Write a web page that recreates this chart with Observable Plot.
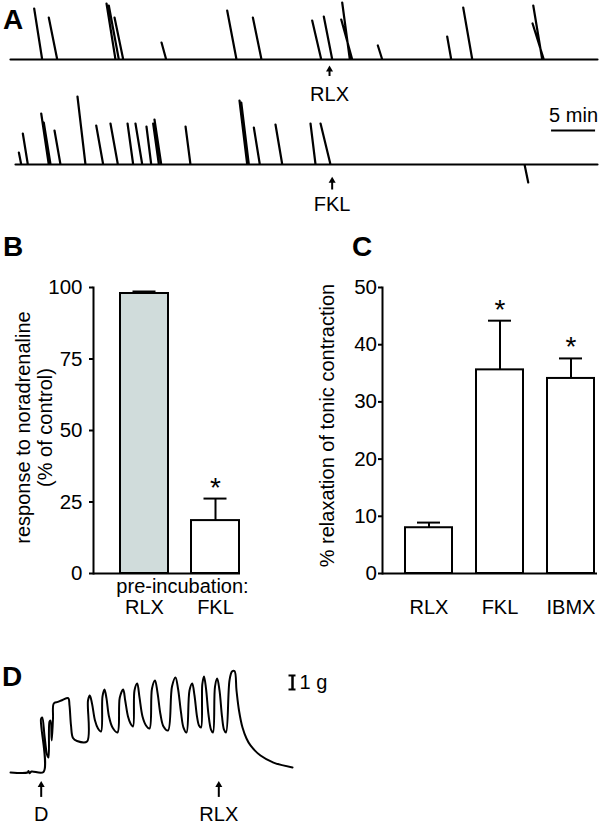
<!DOCTYPE html>
<html><head><meta charset="utf-8">
<script src="https://cdn.jsdelivr.net/npm/d3@7"></script>
<script src="https://cdn.jsdelivr.net/npm/@observablehq/plot@0.6"></script>
<style>
body{margin:0;background:#fff;}
#fig{position:relative;width:600px;height:824px;overflow:hidden;background:#fff;font-family:"Liberation Sans",Arial,Helvetica,sans-serif;}
.lbl{position:absolute;font-weight:bold;font-size:28px;line-height:28px;color:#000;}
</style></head>
<body><div id="fig"></div>
<script>
// ---------------- Panel A: spontaneous contractions (time in min, amplitude a.u.) ----------------
const topTraceStart = 0, topTraceEnd = 66.7;
const topSpikePeakTime = [2.69, 4.35, 10.91, 11.17, 11.82, 17.16, 24.62, 27.54, 34.28, 35.60, 37.69, 37.58, 41.74, 49.62, 51.44, 59.40, 59.32];
const topSpikeAmp      = [51, 42, 56, 54, 42, 17, 49, 42, 39, 43, 57, 40, 14, 23, 52, 54, 36];
const topSpikeFootTime = [3.60, 5.31, 11.93, 12.31, 12.81, 17.69, 25.68, 28.52, 35.31, 36.56, 38.56, 38.83, 42.24, 50.08, 52.47, 60.42, 60.60];

const botTraceStart = 0.57, botTraceEnd = 66.7;
const botSpikePeakTime = [0.95, 1.40, 3.49, 3.78, 5.00, 7.61, 9.74, 11.36, 13.30, 14.20, 15.45, 16.21, 16.36, 19.89, 26.02, 26.22, 27.65, 30.11, 34.09, 35.23, 58.83];
const botSpikeAmp      = [12, 31, 51, 42, 34, 68, 39, 41, 41, 41, 38, 41, 45, 38, 64, 62, 37, 40, 41, 41, -18];
const botSpikeFootTime = [1.22, 1.97, 4.35, 4.55, 5.68, 8.52, 10.53, 12.20, 13.94, 14.97, 15.99, 16.86, 17.13, 20.45, 26.90, 27.08, 28.33, 30.88, 34.66, 36.36, 58.41];

const topDrugTime = [36.25], topDrugLabel = ["RLX"];
const botDrugTime = [36.55], botDrugLabel = ["FKL"];
const timeBarMinutes = 5, timeBarEnd = 66.48, timeBarLabel = "5 min";

// ---------------- Panel B ----------------
const bCategories = ["RLX", "FKL"];
const bMeans = [97.9, 18.5];
const bErrors = [0.7, 7.7];
const bSignificant = [false, true];
const bFills = ["#d0dcdb", "#ffffff"];
const bTicks = [0, 25, 50, 75, 100];
const bYLabel = "response to noradrenaline\n(% of control)";
const bXLabel = "pre-incubation:";

// ---------------- Panel C ----------------
const cCategories = ["RLX", "FKL", "IBMX"];
const cMeans = [8.0, 35.6, 34.1];
const cErrors = [0.9, 8.6, 3.5];
const cSignificant = [false, true, true];
const cTicks = [0, 10, 20, 30, 40, 50];
const cYLabel = "% relaxation of tonic contraction";

// ---------------- Panel D: tension trace (time a.u., force in g) ----------------
const dTime = [0, 17, 18, 19, 21, 33, 30.5, 31.7, 34, 36.5, 38, 39, 40, 41.2, 42.5, 43.3, 47.3, 52, 57.7, 59, 60.5, 62.5, 66.5, 76.5,
  77.5, 79.3, 81.5, 84.5, 87.5, 90.5,
  92, 94, 96, 98.5, 102, 107,
  109.3, 112.7, 114.7, 117.5, 120, 122.5,
  124, 126.7, 129, 132, 135.5, 139,
  141.5, 144.5, 147, 150, 153, 157.5,
  161.5, 165, 167.5, 170.5, 173, 176,
  179, 181.7, 184, 186.5, 188.5, 190.5,
  191.8, 193.5, 195.5, 198, 200.5, 202.5,
  204.5, 206.7, 209, 211.5, 213.5, 215.5,
  219, 221.5, 224, 226, 228.5, 232, 236, 240, 250, 263, 282];
const dForce = [0, 0, 0.1, -0.05, 0.07, 0.04, 3.82, 3.93, 2.64, 1.29, 1.07, 3.64, 3.71, 2.29, 3.86, 4.93, 5.04, 5.18, 5.31, 4.79, 3.36, 2.46, 2.25, 2.21,
  5.14, 5.5, 4.93, 3.71, 3.14, 2.93,
  5.43, 5.93, 5.29, 4.0, 3.21, 2.86,
  5.36, 5.93, 5.14, 4.0, 3.5, 3.29,
  5.86, 6.36, 5.36, 4.0, 3.36, 3.14,
  6.0, 6.57, 5.71, 4.14, 3.29, 3.0,
  6.14, 6.79, 6.0, 4.29, 3.21, 2.86,
  5.86, 6.36, 5.5, 4.0, 3.36, 3.21,
  6.29, 6.86, 6.0, 4.14, 3.07, 2.86,
  6.14, 6.71, 5.86, 4.0, 3.07, 2.86,
  6.57, 7.21, 7.25, 5.86, 4.43, 3.21, 2.43, 1.93, 1.21, 0.71, 0.36];
const dEventTime = [30.7, 208.3], dEventLabel = ["D", "RLX"];
const dScaleG = 1, dScaleBottom = 5.93, dScaleTime = 282, dScaleLabel = "1 g";

// ================= drawing =================
const FONT = '"Liberation Sans", Arial, Helvetica, sans-serif';
const fig = document.getElementById("fig");
const baseStyle = `background: transparent; overflow: visible; font-family: ${FONT}; font-size: 20px; color: black;`;
function place(el, left, top) {
  el.style.position = "absolute"; el.style.left = left + "px"; el.style.top = top + "px";
  fig.appendChild(el);
}
function letter(txt, left, top) {
  const d = document.createElement("div"); d.className = "lbl"; d.textContent = txt;
  d.style.left = left + "px"; d.style.top = top + "px"; fig.appendChild(d);
}
function tracePoints(start, end, peaks, amps, feet) {
  const pts = [{t: start, v: 0}];
  const idx = d3.range(peaks.length).sort((a, b) => feet[a] - feet[b]);
  for (const i of idx) pts.push({t: feet[i], v: 0}, {t: peaks[i], v: amps[i]}, {t: feet[i], v: 0});
  pts.push({t: end, v: 0});
  return pts;
}
// upward arrow: shaft + filled triangular head
function upArrow(data, tail, headBase, headCenter, r) {
  return [
    Plot.ruleX(data, {x: "t", y1: () => tail, y2: () => headBase, strokeWidth: 2}),
    Plot.dot(data, {x: "t", y: () => headCenter, symbol: "triangle", r, fill: "black", stroke: "none"})
  ];
}
const topTrace = tracePoints(topTraceStart, topTraceEnd, topSpikePeakTime, topSpikeAmp, topSpikeFootTime);
const botTrace = tracePoints(botTraceStart, botTraceEnd, botSpikePeakTime, botSpikeAmp, botSpikeFootTime);
const topEvents = topDrugTime.map((t, i) => ({t, label: topDrugLabel[i]}));
const botEvents = botDrugTime.map((t, i) => ({t, label: botDrugLabel[i]}));

// A top
place(Plot.plot({
  width: 600, height: 105, margin: 0, style: baseStyle,
  x: {domain: [0, 66.7], range: [10, 597], axis: null},
  y: {domain: [-46, 59], range: [105, 0], axis: null},
  marks: [
    Plot.line(topTrace, {x: "t", y: "v", stroke: "black", strokeWidth: 2.2, strokeLinejoin: "round"}),
    ...upArrow(topEvents, -17, -9.5, -10, 2.6),
    Plot.text(topEvents, {x: "t", y: () => -34.6, text: "label", fontSize: 20, lineAnchor: "middle"})
  ]
}), 0, 0);

// A bottom
place(Plot.plot({
  width: 600, height: 115, margin: 0, style: baseStyle,
  x: {domain: [0, 66.7], range: [10, 597], axis: null},
  y: {domain: [-56, 59], range: [115, 0], axis: null},
  marks: [
    Plot.line(botTrace, {x: "t", y: "v", stroke: "black", strokeWidth: 2.2, strokeLinejoin: "round"}),
    ...upArrow(botEvents, -25.5, -15.5, -16.2, 2.6),
    Plot.text(botEvents, {x: "t", y: () => -39.6, text: "label", fontSize: 20, lineAnchor: "middle"}),
    Plot.ruleY([timeBarMinutes], {y: () => 34, x1: () => timeBarEnd - timeBarMinutes, x2: () => timeBarEnd, strokeWidth: 2}),
    Plot.text([timeBarLabel], {x: () => timeBarEnd - timeBarMinutes / 2, y: () => 48.7, fontSize: 20, lineAnchor: "middle"})
  ]
}), 0, 105);

// B / C bar charts
function barPanel({cats, means, errs, sig, fills, ticks, yMax, range, pInner, mLeft, mRight, tickPad, capInset}) {
  const data = cats.map((c, i) => ({cat: c, mean: means[i], err: errs[i], top: means[i] + errs[i], sig: sig[i], fill: fills[i]}));
  return {data, opts: {
    width: 300, height: 390, marginTop: 57, marginBottom: 47, marginLeft: mLeft, marginRight: mRight, style: baseStyle,
    x: {domain: cats, range, paddingInner: pInner, paddingOuter: pInner / 2, axis: null},
    y: {domain: [0, yMax]},
    color: {type: "identity"},
    marks: [
      Plot.ruleX(data, {x: "cat", y1: "mean", y2: "top", strokeWidth: 2}),
      Plot.tickY(data, {x: "cat", y: "top", insetLeft: capInset, insetRight: capInset, strokeWidth: 2}),
      Plot.barY(data, {x: "cat", y: "mean", fill: "fill", stroke: "black", strokeWidth: 2}),
      Plot.text(data.filter(d => d.sig), {x: "cat", y: "top", text: () => "*", fontSize: 28, dy: -11, lineAnchor: "middle"}),
      Plot.text(data, {x: "cat", y: () => 0, text: "cat", fontSize: 20, dy: 34, lineAnchor: "middle"}),
      Plot.ruleY([0], {strokeWidth: 2}),
      Plot.frame({anchor: "left", strokeWidth: 2}),
      Plot.axisY({ticks, tickSize: 4, tickFormat: () => "", strokeWidth: 2, label: null}),
      Plot.text(ticks, {y: d => d, text: d => String(d), frameAnchor: "left", textAnchor: "end", dx: -(4 + tickPad), fontSize: 20.5, lineAnchor: "middle"})
    ]
  }};
}
const B = barPanel({cats: bCategories, means: bMeans, errs: bErrors, sig: bSignificant, fills: bFills, ticks: bTicks, yMax: 100,
  range: [108.25, 251.25], pInner: 0.329, mLeft: 93, mRight: 60, tickPad: 7, capInset: 12.5});
B.opts.marks.push(
  Plot.text([bYLabel], {frameAnchor: "left", textAnchor: "middle", rotate: -90, dx: -60, dy: -3, fontSize: 20, lineHeight: 1.1, lineAnchor: "middle"}),
  Plot.text([bXLabel], {frameAnchor: "bottom", textAnchor: "middle", dx: 15.5, dy: 13, fontSize: 20, lineAnchor: "middle"})
);
place(Plot.plot(B.opts), 0, 230);

const C = barPanel({cats: cCategories, means: cMeans, errs: cErrors, sig: cSignificant, fills: ["#fff", "#fff", "#fff"], ticks: cTicks, yMax: 50,
  range: [92.875, 306.625], pInner: 0.3333, mLeft: 82, mRight: 3, tickPad: 1.5, capInset: 12});
C.opts.marks.push(
  Plot.text([cYLabel], {frameAnchor: "left", textAnchor: "middle", rotate: -90, dx: -55, dy: -5, fontSize: 20, lineAnchor: "middle"})
);
place(Plot.plot(C.opts), 300, 230);

// D trace
const dData = dTime.map((t, i) => ({t, g: dForce[i]}));
const dEvents = dEventTime.map((t, i) => ({t, label: dEventLabel[i]}));
place(Plot.plot({
  width: 340, height: 184, marginTop: 20, marginBottom: 52, marginLeft: 10, marginRight: 48, style: baseStyle,
  x: {domain: [0, 282], axis: null},
  y: {domain: [0, 8], axis: null},
  marks: [
    Plot.line(dData, {x: "t", y: "g", stroke: "black", strokeWidth: 2, curve: "catmull-rom", strokeLinejoin: "round"}),
    ...upArrow(dEvents, -1.78, -0.85, -0.9, 2.6),
    Plot.text(dEvents, {x: "t", y: () => -2.98, text: "label", fontSize: 20, lineAnchor: "middle"}),
    Plot.ruleX([dScaleTime], {y1: () => dScaleBottom, y2: () => dScaleBottom + dScaleG, strokeWidth: 2.5}),
    Plot.ruleY([dScaleBottom, dScaleBottom + dScaleG], {x1: () => dScaleTime - 3.5, x2: () => dScaleTime + 3.5, strokeWidth: 2}),
    Plot.text([dScaleLabel], {x: () => dScaleTime + 7, y: () => dScaleBottom + dScaleG / 2, textAnchor: "start", fontSize: 20, lineAnchor: "middle"})
  ]
}), 0, 640);

letter("A", 3, 6);
letter("B", 3, 233);
letter("C", 352, 233);
letter("D", 2, 663);
</script>
</body></html>
